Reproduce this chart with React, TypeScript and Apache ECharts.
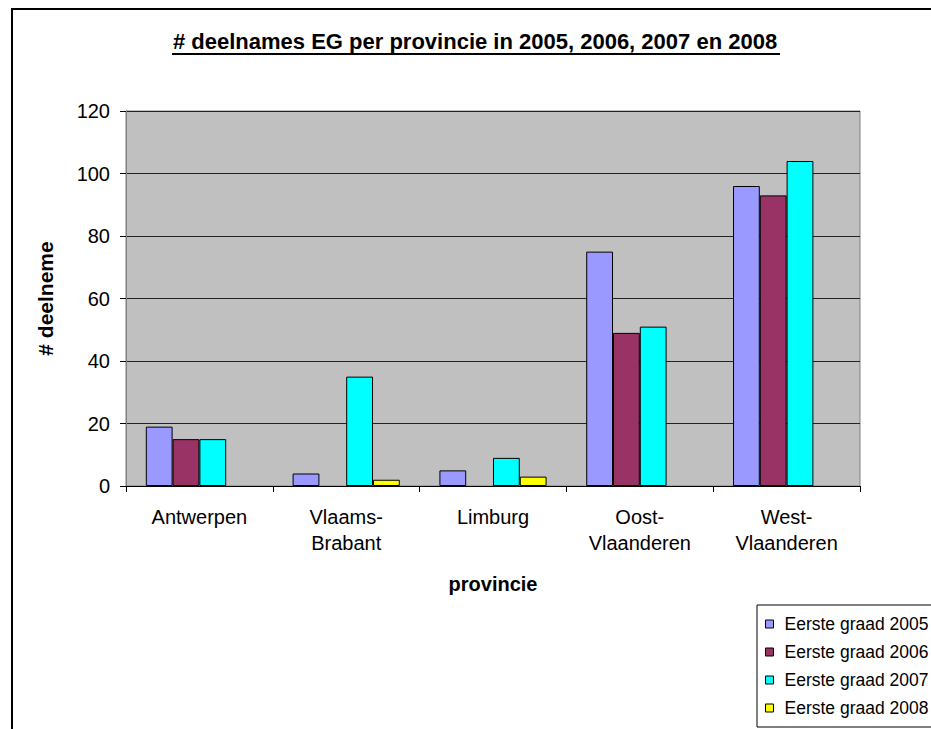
import React, { useEffect, useRef } from "react";
import * as echarts from "echarts";

const categories = ["Antwerpen", "Vlaams-\nBrabant", "Limburg", "Oost-\nVlaanderen", "West-\nVlaanderen"];
const seriesNames = ["Eerste graad 2005", "Eerste graad 2006", "Eerste graad 2007", "Eerste graad 2008"];
const values2005 = [19, 4, 5, 75, 96];
const values2006 = [15, null, null, 49, 93];
const values2007 = [15, 35, 9, 51, 104];
const values2008 = [null, 2, 3, null, null];
const seriesColors = ["#9999FF", "#993366", "#00FFFF", "#FFFF00"];
const yTicks = { min: 0, max: 120, interval: 20 };
const titleText = "# deelnames EG per provincie in 2005, 2006, 2007 en 2008";
const xAxisName = "provincie";
const yAxisName = "# deelneme";

const FONT = "Liberation Sans, Arial, sans-serif";

export default function App() {
  const ref = useRef<HTMLDivElement>(null);
  useEffect(() => {
    document.body.style.margin = "0";
    const chart = echarts.init(ref.current!, null, { renderer: "svg" });
    const allValues = [values2005, values2006, values2007, values2008];
    chart.setOption({
      animation: false,
      backgroundColor: "#ffffff",
      textStyle: { fontFamily: FONT, color: "#000" },
      title: {
        text: titleText,
        left: 173,
        top: 30,
        padding: 0,
        textStyle: { fontFamily: FONT, fontSize: 22, fontWeight: "bold", color: "#000" },
      },
      graphic: [
        {
          type: "rect",
          shape: { x: 12, y: 9, width: 940, height: 760 },
          style: { fill: "none", stroke: "#000", lineWidth: 2 },
          z: -1,
        },
        {
          type: "line",
          shape: { x1: 172, y1: 54, x2: 780, y2: 54 },
          style: { stroke: "#000", lineWidth: 2 },
        },
      ],
      legend: {
        orient: "vertical",
        left: 757,
        top: 605,
        padding: [10, 60, 10, 8],
        itemGap: 10,
        itemWidth: 8,
        itemHeight: 8,
        icon: "rect",
        borderColor: "#000",
        borderWidth: 1,
        backgroundColor: "#fff",
        textStyle: { fontFamily: FONT, fontSize: 17.5, color: "#000", padding: [0, 0, 0, 6] },
        itemStyle: { borderColor: "#000", borderWidth: 1 },
        data: seriesNames,
      },
      grid: {
        left: 126,
        right: 71,
        top: 111,
        bottom: 243,
        show: true,
        backgroundColor: "#C0C0C0",
        borderColor: "#808080",
        borderWidth: 1,
      },
      xAxis: {
        type: "category",
        data: categories,
        name: xAxisName,
        nameLocation: "middle",
        nameGap: 88,
        nameTextStyle: { fontFamily: FONT, fontSize: 20, fontWeight: "bold", color: "#000" },
        axisLine: { lineStyle: { color: "#000", width: 1 } },
        axisTick: { show: true, length: 6, lineStyle: { color: "#000" } },
        axisLabel: { fontFamily: FONT, fontSize: 20, color: "#000", margin: 18, lineHeight: 26, interval: 0 },
      },
      yAxis: {
        type: "value",
        min: yTicks.min,
        max: yTicks.max,
        interval: yTicks.interval,
        name: yAxisName,
        nameLocation: "middle",
        nameGap: 70,
        nameTextStyle: { fontFamily: FONT, fontSize: 21, fontWeight: "bold", color: "#000" },
        axisLine: { show: true, lineStyle: { color: "#808080" } },
        axisTick: { show: true, length: 6, lineStyle: { color: "#000" } },
        axisLabel: { fontFamily: FONT, fontSize: 20, color: "#000", margin: 16 },
        splitLine: { show: true, lineStyle: { color: "#222", width: 1 } },
      },
      series: seriesNames.map((name, i) => ({
        name,
        type: "bar",
        data: allValues[i],
        barGap: "0%",
        barCategoryGap: "27%",
        itemStyle: { color: seriesColors[i], borderColor: "#000", borderWidth: 1 },
      })),
    });
    return () => chart.dispose();
  }, []);
  return <div ref={ref} style={{ position: "absolute", left: 0, top: 0, width: 931, height: 729 }} />;
}
